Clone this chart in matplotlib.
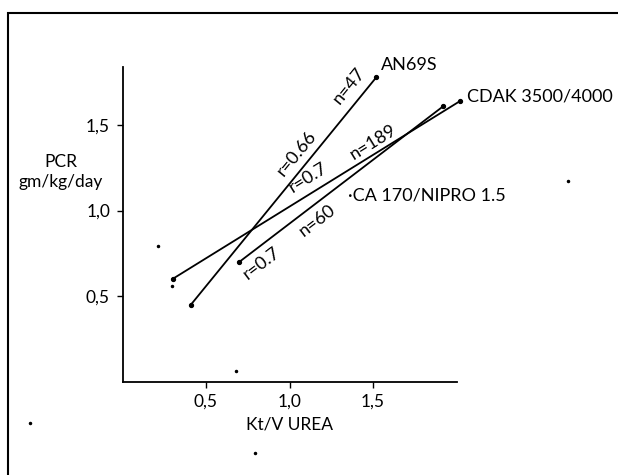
import matplotlib.pyplot as plt
from matplotlib.patches import Rectangle

plt.rcParams['font.family'] = ['Lato', 'DejaVu Sans']

# regression lines: end points (Kt/V, PCR)
an69s_x = [0.41, 1.52]
an69s_y = [0.45, 1.78]
cdak_x = [0.30, 2.02]
cdak_y = [0.60, 1.64]
ca_x = [0.70, 1.92]
ca_y = [0.70, 1.61]

# stray specks visible on the scan
speck_x = [0.21, 0.295, 0.68, -0.555, 0.793, 2.669]
speck_y = [0.79, 0.558, 0.06, -0.241, -0.416, 1.172]

x_ticks = [0.5, 1.0, 1.5]
x_tick_labels = ['0,5', '1,0', '1,5']
y_ticks = [0.5, 1.0, 1.5]
y_tick_labels = ['0,5', '1,0', '1,5']

fig = plt.figure(figsize=(6.18, 4.75), dpi=100)
fig.patches.append(Rectangle((7.5 / 618, -0.1), 1.1, 1 - 13 / 475 + 0.1,
                             transform=fig.transFigure, fill=False,
                             edgecolor='black', linewidth=1.5))

ax = fig.add_axes([122.5 / 618, 1 - 381.5 / 475, 334 / 618, 314.5 / 475])
ax.set_xlim(0, 2.0)
ax.set_ylim(0, 1.84)
for s in ['top', 'right']:
    ax.spines[s].set_visible(False)
for s in ['left', 'bottom']:
    ax.spines[s].set_linewidth(1.3)

for xs, ys in [(an69s_x, an69s_y), (cdak_x, cdak_y), (ca_x, ca_y)]:
    ax.plot(xs, ys, color='black', linewidth=1.3, marker='o', markersize=2.8,
            clip_on=False)
ax.plot(speck_x, speck_y, linestyle='none', marker='o', markersize=1.5,
        color='black', clip_on=False)

ax.set_xticks(x_ticks)
ax.set_xticklabels(x_tick_labels)
ax.set_yticks(y_ticks)
ax.set_yticklabels(y_tick_labels)
ax.tick_params(direction='out', length=4, width=1, labelsize=12.5, pad=5)
ax.set_xlabel('Kt/V UREA', fontsize=12.5, labelpad=5)

fig.text(61 / 618, 1 - 172 / 475, 'PCR\ngm/kg/day', fontsize=12.5,
         ha='center', va='center', linespacing=1.3)

kw = dict(fontsize=13, clip_on=False)
ax.text(1.55, 1.85, 'AN69S', ha='left', va='center', **kw)
ax.text(2.06, 1.665, 'CDAK 3500/4000', ha='left', va='center', **kw)
ax.text(1.35, 1.09, '·CA 170/NIPRO 1.5', ha='left', va='center', **kw)

rk = dict(fontsize=13, ha='center', va='center', rotation_mode='anchor')
ax.text(1.045, 1.335, 'r=0.66', rotation=50.7, **rk)
ax.text(1.355, 1.73, 'n=47', rotation=50.7, **rk)
ax.text(1.11, 1.195, 'r=0.7', rotation=31.7, **rk)
ax.text(1.50, 1.40, 'n=189', rotation=31.7, **rk)
ax.text(0.835, 0.69, 'r=0.7', rotation=37.2, **rk)
ax.text(1.168, 0.94, 'n=60', rotation=37.2, **rk)

fig.savefig('out.png', dpi=100)
